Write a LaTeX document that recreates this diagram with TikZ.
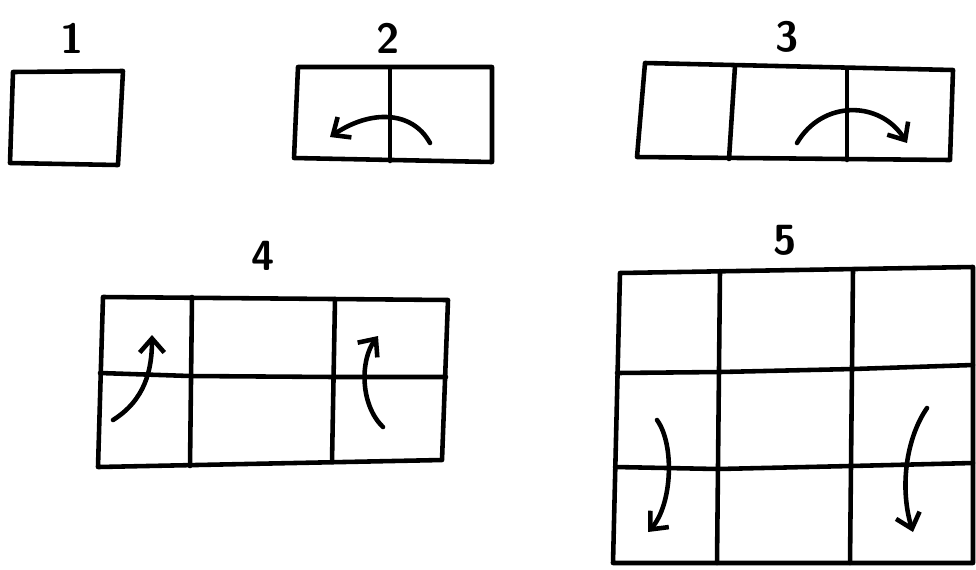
\documentclass[tikz,border=0pt]{standalone}
\usepackage{tikz}
\usetikzlibrary{arrows.meta}

\begin{document}
\begin{tikzpicture}[x=0.02cm, y=-0.02cm, line width=2.6pt, line cap=round, line join=round,
    turn/.style={-{Straight Barb[length=8pt,width=14pt]}},
    num/.style={font=\fontsize{24}{28}\selectfont\sffamily\bfseries}]
        \useasboundingbox (0,0) rectangle (976,569);

        % Labels
        \node[num] (n1) at (72,38) {1};
        \node[num] (n2) at (388,38) {2};
        \node[num] (n3) at (787,37) {3};
        \node[num] (n4) at (263,256) {4};
        \node[num] (n5) at (785,240) {5};

        % Box 1
        \draw (13,72) -- (123,71) -- (118,165) -- (10,163) -- cycle;

        % Box 2
        \draw (298,67) -- (492,67) -- (492,162) -- (294,158) -- cycle;
        \draw (390,68) -- (390,161);
        \draw[turn] (430,143) .. controls (412,110) and (370,110) .. (330,137);

        % Box 3
        \draw (645,63) -- (953,70) -- (950,160) -- (637,157) -- cycle;
        \draw (735,66) -- (729,159);
        \draw (847,69) -- (847,160);
        \draw[turn] (797,143) .. controls (822,100) and (880,100) .. (907,143);

        % Box 4
        \draw (103,297) -- (448,300) -- (442,460) -- (98,467) -- cycle;
        \draw (100,373) -- (190,376) -- (335,377) -- (446,377);
        \draw (192,297) -- (190,466);
        \draw (335,299) -- (332,462);
        \draw[turn] (113,420) .. controls (145,400) and (152,370) .. (152,335);
        \draw[turn] (383,427) .. controls (360,405) and (360,360) .. (378,336);

        % Box 5
        \draw (620,273) -- (973,267) -- (973,563) -- (613,563) -- cycle;
        \draw (617,373) -- (720,372) -- (853,369) -- (973,365);
        \draw (615,467) -- (718,469) -- (851,466) -- (973,463);
        \draw (720,271) -- (717,563);
        \draw (853,269) -- (850,563);
        \draw[turn] (657,420) .. controls (675,445) and (672,505) .. (648,532);
        \draw[turn] (927,408) .. controls (905,440) and (900,490) .. (913,532);
\end{tikzpicture}
\end{document}
